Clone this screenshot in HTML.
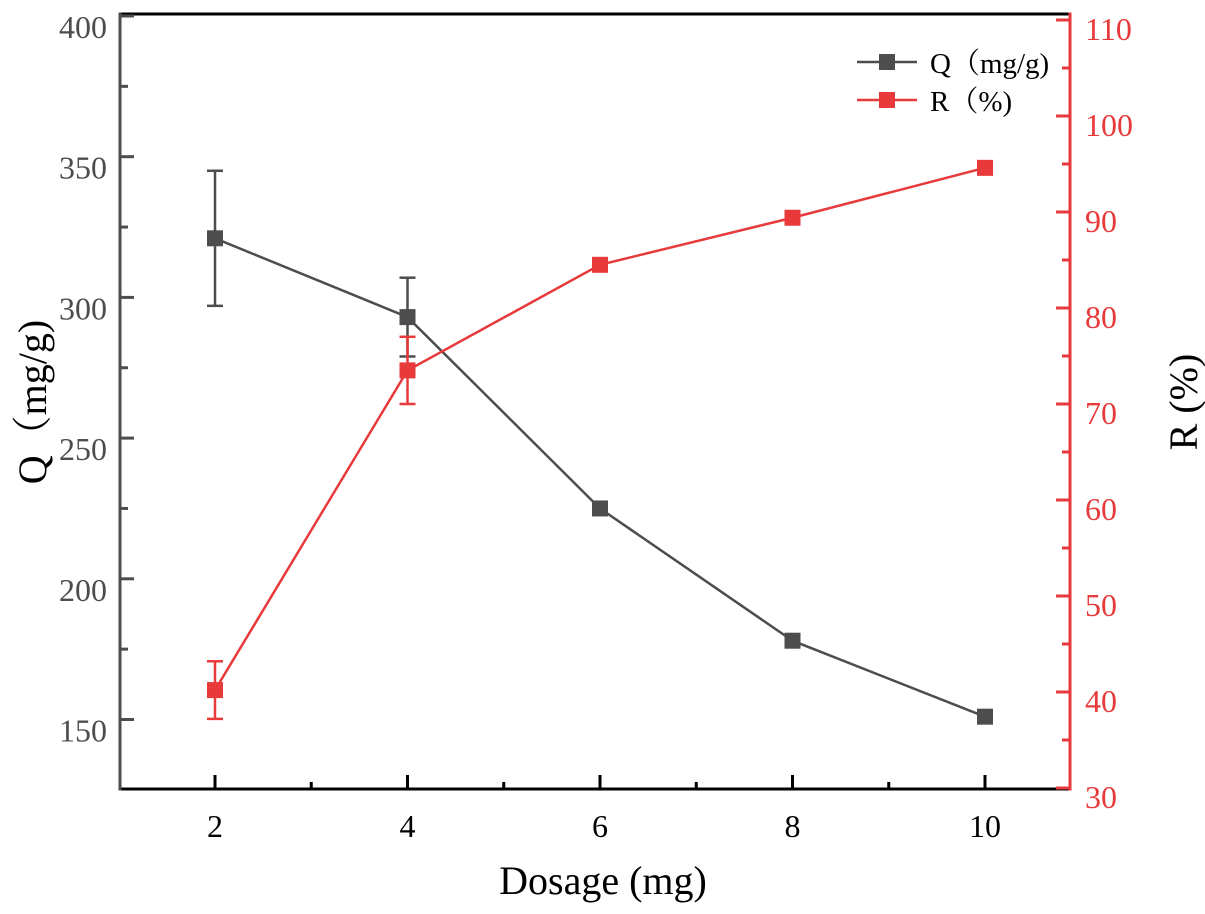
<!DOCTYPE html>
<html><head><meta charset="utf-8"><style>
body{margin:0;background:#fff}
svg text{font-family:"Liberation Serif","Noto Serif CJK SC",serif}
</style></head><body>
<svg id="chart" width="1205" height="909" viewBox="0 0 1205 909" xmlns="http://www.w3.org/2000/svg"></svg>
<script>
const categories=[2,4,6,8,10];
const qValues=[321,293,225,178,151];
const qErrors=[24,14,2,2,2];
const rValues=[40.2,73.5,84.5,89.4,94.6];
const rErrors=[3,3.5,0.5,0.5,0.5];
const qTicks=[150,200,250,300,350,400];
const rTicks=[30,40,50,60,70,80,90,100,110];
const xTicks=[2,4,6,8,10];

const L=120,R=1070,T=14,B=789;
const GREY="#4d4d4d",RED="#e8393b";
const xs=v=>215+(v-2)*96.25;
const yq=v=>16+(400-v)*2.814;
const yr=v=>788-(v-30)*9.6;
const svg=document.getElementById('chart');
const NS="http://www.w3.org/2000/svg";
function mk(tag,attrs,name,parent){const e=document.createElementNS(NS,tag);for(const k in attrs)e.setAttribute(k,attrs[k]);


(parent||svg).appendChild(e);return e;}
function txt(s,attrs,name){const e=mk('text',attrs,name);e.textContent=s;return e;}

mk('line',{x1:L,y1:T,x2:R,y2:T,stroke:'#000','stroke-width':3},'top-axis-line');
mk('line',{x1:L,y1:B,x2:R,y2:B,stroke:'#000','stroke-width':3},'x-axis-line');
mk('line',{x1:L,y1:T-1.5,x2:L,y2:B+1.5,stroke:GREY,'stroke-width':3},'left-y-axis-line');
mk('line',{x1:R,y1:T-1.5,x2:R,y2:B+1.5,stroke:RED,'stroke-width':3},'right-y-axis-line');

for(let v=3;v<=9;v+=2) mk('line',{x1:xs(v),y1:B,x2:xs(v),y2:B-7,stroke:'#000','stroke-width':3},'x-minor-tick');
xTicks.forEach(v=>{mk('line',{x1:xs(v),y1:B,x2:xs(v),y2:B-14,stroke:'#000','stroke-width':3},'x-tick');
txt(String(v),{x:xs(v),y:B+48,'font-size':32,'text-anchor':'middle',fill:'#000'},'x-tick-label');});
txt('Dosage (mg)',{x:603,y:894,'font-size':40,'text-anchor':'middle',fill:'#000'},'x-axis-title');

qTicks.forEach(v=>{mk('line',{x1:L,y1:yq(v),x2:L+14,y2:yq(v),stroke:GREY,'stroke-width':3},'q-tick');
txt(String(v),{x:L-13,y:yq(v)+22,'font-size':32,'text-anchor':'end',fill:GREY},'q-tick-label');});
for(let v=175;v<400;v+=50) mk('line',{x1:L,y1:yq(v),x2:L+8,y2:yq(v),stroke:GREY,'stroke-width':3},'q-minor-tick');
txt('Q（mg/g)',{x:0,y:0,'font-size':40,'text-anchor':'middle',fill:'#000',transform:'translate(46,402) rotate(-90)'},'q-axis-title');

rTicks.forEach(v=>{mk('line',{x1:R,y1:yr(v),x2:R-14,y2:yr(v),stroke:RED,'stroke-width':3},'r-tick');
txt(String(v),{x:R+15,y:yr(v)+20,'font-size':32,'text-anchor':'start',fill:RED},'r-tick-label');});
for(let v=35;v<110;v+=10) mk('line',{x1:R,y1:yr(v),x2:R-8,y2:yr(v),stroke:RED,'stroke-width':3},'r-minor-tick');
txt('R (%)',{x:0,y:0,'font-size':40,'text-anchor':'middle',fill:'#000',transform:'translate(1197,402) rotate(-90)'},'r-axis-title');

function series(vals,errs,ys,col,name){
  const pts=vals.map((v,i)=>xs(categories[i])+','+ys(v)).join(' ');
  mk('polyline',{points:pts,fill:'none',stroke:col,'stroke-width':2.5},name+'-line');
  vals.forEach((v,i)=>{const x=xs(categories[i]),y1=ys(v+errs[i]),y2=ys(v-errs[i]);
    mk('line',{x1:x,y1:y1,x2:x,y2:y2,stroke:col,'stroke-width':2.5},name+'-error-bar');
    mk('line',{x1:x-8,y1:y1,x2:x+8,y2:y1,stroke:col,'stroke-width':2.5},name+'-error-cap');
    mk('line',{x1:x-8,y1:y2,x2:x+8,y2:y2,stroke:col,'stroke-width':2.5},name+'-error-cap');
    mk('rect',{x:x-8,y:ys(v)-8,width:16,height:16,fill:col},name+'-marker');});
}
series(qValues,qErrors,yq,GREY,'q');
series(rValues,rErrors,yr,RED,'r');

mk('line',{x1:857,y1:62,x2:917,y2:62,stroke:GREY,'stroke-width':2.5},'legend-q-line');
mk('rect',{x:879,y:54,width:16,height:16,fill:GREY},'legend-q-marker');
txt('Q（mg/g)',{x:930,y:73,'font-size':29,fill:'#000'},'legend-q-label');
mk('line',{x1:857,y1:100,x2:917,y2:100,stroke:RED,'stroke-width':2.5},'legend-r-line');
mk('rect',{x:879,y:92,width:16,height:16,fill:RED},'legend-r-marker');
txt('R（%)',{x:930,y:111,'font-size':29,fill:'#000'},'legend-r-label');
</script>
</body></html>
